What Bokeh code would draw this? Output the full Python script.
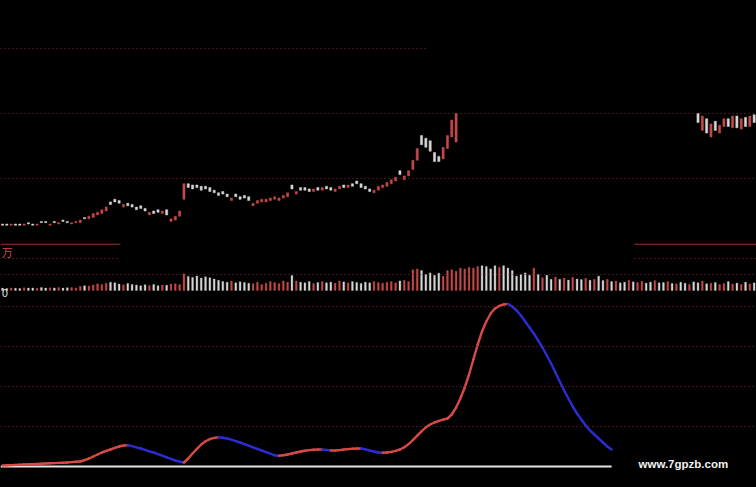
from bokeh.plotting import figure
from bokeh.layouts import column
from bokeh.models import Range1d, Span, ColumnDataSource, GlobalInlineStyleSheet
from bokeh.core.properties import value
from bokeh.embed import file_html
from bokeh.resources import INLINE

# ---------------- data ----------------
# candle open / close (price); hidden candles (above view) are None
open_px = [16.5,16.5,16.4,16.5,16.5,16.4,16.6,16.5,16.4,16.7,
           16.7,16.4,16.7,16.5,16.8,16.7,16.5,16.6,16.6,17.0,
           16.9,17.0,17.2,17.3,17.5,18.2,18.4,18.3,17.8,18.1,
           18.0,17.8,17.9,17.7,17.2,17.5,17.6,17.3,17.6,16.7,
           16.8,17.1,18.4,19.6,19.5,19.5,19.4,19.4,19.3,19.1,
           18.9,19.0,18.8,18.3,18.8,18.6,18.7,18.6,17.9,18.1,
           18.2,18.2,18.3,18.4,18.3,18.5,18.6,19.5,18.8,19.3,
           19.3,19.2,19.0,19.3,19.1,19.4,19.3,19.0,19.2,19.5,
           19.3,19.6,19.8,19.6,19.4,19.2,18.9,19.1,19.3,19.4,
           19.6,19.8,20.6,19.9,20.2,20.7,21.4,23.3,23.1,22.9,
           22.0,21.7,21.5,22.3,23.2,22.8] + [None] * 55 + \
          [25.0,23.7,24.6,23.2,24.4,23.5,24.0,24.6,23.9,24.8,23.8,24.7,24.0,24.9]
close_px = [16.4,16.4,16.5,16.4,16.4,16.5,16.5,16.4,16.5,16.6,
            16.6,16.5,16.6,16.6,16.7,16.6,16.6,16.7,16.8,16.9,
            17.1,17.3,17.4,17.6,17.8,18.0,18.2,18.1,18.0,17.9,
            17.8,17.6,17.7,17.5,17.4,17.3,17.4,17.5,17.2,16.9,
            17.1,17.5,19.6,19.3,19.2,19.3,19.1,19.2,19.0,18.9,
            18.7,18.8,18.6,18.5,18.6,18.4,18.5,18.3,18.1,18.3,
            18.4,18.4,18.5,18.6,18.5,18.7,18.9,19.2,19.0,19.1,
            19.1,19.0,19.2,19.1,19.3,19.2,19.1,19.2,19.4,19.3,
            19.5,19.4,19.6,19.3,19.2,19.0,19.1,19.4,19.5,19.7,
            19.9,20.1,20.3,20.2,20.6,21.4,22.3,22.6,22.4,22.1,
            21.3,21.3,22.4,23.3,24.5,25.0] + [None] * 55 + \
           [24.3,24.8,23.5,24.2,23.7,24.1,24.6,24.0,24.8,23.9,24.6,24.0,24.8,24.3]

volume = [150,120,160,140,130,170,150,160,140,180,150,170,160,190,150,170,180,160,
          260,300,280,350,420,380,450,520,480,400,360,430,380,340,300,360,320,380,300,350,330,400,420,
          380,1050,
          880,820,900,780,860,800,720,640,
          560,520,600,480,540,500,
          450,420,520,380,460,560,500,440,600,520,
          930,
          600,520,480,560,440,500,560,480,520,460,600,540,480,560,500,440,520,480,560,500,460,
          520,560,480,600,640,560,
          1300,1350,1250,
          1000,1100,950,1080,900,
          1250,1300,1200,1400,1350,1450,1400,1500,
          1550,1500,1350,1550,1450,1550,1400,1250,
          900,1000,1100,950,
          1400,
          1000,800,950,700,850,
          700,780,650,820,720,680,760,640,700,900,620,700,
          560,600,480,520,640,540,500,580,460,520,620,480,500,560,440,420,520,460,380,540,
          480,600,420,460,500,380,440,560,400,460,380,520,420,480]
volume_dir = ("wwrwwrwwrw" "wrwrwwrrrw" "rrrrrwwwrw" "wwwwrwwrwr" "rrrwwwwwww"
              "wwwrwwwwrr" "rrrrrrrwrw" "wwrwrwwrrw" "rwwwwwrrrr" "rrwrrrrwww"
              "wwrrrrrrrr" "rwwwwrwwww" "wwwrwrwwrw" "rwrwwrwrww" "rwrwwrwrrw"
              "wrwwrwrwwr" "wwrwrwrrwr" "wrwrw")

indicator = [0.5,0.6,0.7,0.8,0.9,1.0,1.1,1.2,1.3,1.4,1.5,
             1.6,1.7,1.8,1.9,2.0,2.2,2.4,
             2.5,3.2,4.0,5.0,
             6.0,7.0,7.8,8.5,9.3,10.0,10.5,10.6,
             10.2,9.6,9.0,8.3,7.6,7.0,6.2,5.4,4.6,3.8,3.0,2.4,2.0,
             4.0,6.5,8.8,11.0,12.6,13.7,14.3,14.6,
             14.4,14.0,13.4,12.7,12.0,11.2,10.4,9.6,8.8,8.0,7.2,6.4,5.6,5.4,
             5.6,6.0,6.5,7.0,7.5,7.9,8.2,8.4,8.5,8.5,8.3,
             8.0,8.0,8.2,8.5,8.7,8.9,9.0,9.0,
             8.6,8.0,7.5,7.0,6.9,
             7.0,7.3,7.8,8.5,9.6,11.2,
             13.2,15.4,17.6,19.6,21.0,
             22.0,22.8,23.4,24.0,26.0,
             29.5,34.0,39.5,46.0,53.5,61.0,
             67.5,72.5,76.5,79.0,80.3,81.0,81.3,
             80.0,78.0,75.5,72.5,69.5,66.5,63.0,59.5,55.5,51.5,47.0,42.5,38.0,34.0,
             30.0,26.5,23.5,20.5,18.0,16.0,14.0,12.0,10.0,8.5]

price_grid_full = [20, 25]
price_grid_part = [30]
volume_grid_full = [1000]
volume_grid_part = [2000]
volume_top_line = [2900]
indicator_grid = [20, 40, 60, 80]
watermark = "www.7gpzb.com"

# ---------------- styling ----------------
RED = "#c24a48"
WHITE = "#d6d6d6"
GRID = "#8c2c2c"
LINE_RED = "#d84a46"
LINE_BLUE = "#2c2cd2"

W = 756
xr = Range1d(-0.463, 174.54)


def mk(h, y0, y1):
    f = figure(width=W, height=h, x_range=xr, y_range=Range1d(y0, y1),
               output_backend="svg", toolbar_location=None,
               x_axis_location=None, y_axis_location=None,
               background_fill_color="black", border_fill_color="black",
               outline_line_color=None, min_border=0,
               min_border_left=0, min_border_right=0, min_border_top=0, min_border_bottom=0)
    f.grid.visible = False
    return f


# ---------------- price panel ----------------
p1 = mk(243, 15.0, 33.69)
for lv in price_grid_full:
    p1.add_layout(Span(location=lv, dimension="width", line_color=GRID,
                       line_dash="1 3", line_width=1))
p1.segment(x0=[-0.463] * len(price_grid_part), x1=[98.4] * len(price_grid_part),
           y0=price_grid_part, y1=price_grid_part, line_color=GRID, line_dash="1 3", line_width=1)

cx, cb, ct, cc = [], [], [], []
for i, (o, c) in enumerate(zip(open_px, close_px)):
    if o is None:
        continue
    cx.append(i)
    cb.append(min(o, c))
    ct.append(max(o, c))
    cc.append(RED if c >= o else WHITE)
p1.vbar(x="x", bottom="b", top="t", width=0.5, fill_color="c", line_color="c",
        line_width=0.5, source=ColumnDataSource(dict(x=cx, b=cb, t=ct, c=cc)))

# ---------------- volume panel ----------------
p2 = mk(55, -500, 2937.5)
for lv in volume_grid_full:
    p2.add_layout(Span(location=lv, dimension="width", line_color=GRID,
                       line_dash="1 3", line_width=1))
for lv in volume_grid_part:
    p2.segment(x0=[-0.463, 146.3], x1=[27.3, 174.54], y0=[lv, lv], y1=[lv, lv],
               line_color=GRID, line_dash="1 3", line_width=1)
for lv in volume_top_line:
    p2.segment(x0=[-0.463, 146.3], x1=[27.3, 174.54], y0=[lv, lv], y1=[lv, lv],
               line_color="#9a3434", line_width=1.2)
vx = list(range(len(volume)))
vc = [RED if d == "r" else WHITE for d in volume_dir]
p2.vbar(x="x", top="t", bottom=0, width=0.42, fill_color="c", line_color="c", line_width=0.3,
        source=ColumnDataSource(dict(x=vx, t=volume, c=vc)))
p2.text(x=[-0.2], y=[2437], text=["万"], text_color="#c8504c", text_font_size="11px",
        text_font=value("Noto Sans CJK SC"), text_baseline="middle", text_align="left")
p2.text(x=[-0.2], y=[-125], text=["0"], text_color="#e0e0e0", text_font_size="10px",
        text_font=value("DejaVu Sans"), text_baseline="middle", text_align="left")

# ---------------- indicator panel ----------------
p3 = mk(189, -10.5, 84)
for lv in indicator_grid:
    p3.add_layout(Span(location=lv, dimension="width", line_color=GRID,
                       line_dash="1 3", line_width=1))
n = len(indicator)
p3.segment(x0=[-0.463], x1=[n - 1], y0=[0], y1=[0], line_color="#e4e4e4", line_width=2)
sx0 = list(range(n - 1))
sx1 = list(range(1, n))
sy0 = indicator[:-1]
sy1 = indicator[1:]
scol = [LINE_RED if b >= a else LINE_BLUE for a, b in zip(sy0, sy1)]
p3.segment(x0="x0", x1="x1", y0="y0", y1="y1", line_color="c", line_width=2.4,
           line_cap="round",
           source=ColumnDataSource(dict(x0=sx0, x1=sx1, y0=sy0, y1=sy1, c=scol)))
p3.text(x=[157.6], y=[1.5], text=[watermark], text_color="#f0f0f0", text_font_size="11.5px",
        text_font=value("Liberation Sans"), text_font_style="bold",
        text_baseline="middle", text_align="center")

layout = column(p1, p2, p3, spacing=0)
layout.stylesheets = [GlobalInlineStyleSheet(css="html,body{background:#000;margin:0;padding:0;overflow:hidden;}")]

open("out.html", "w").write(file_html(layout, INLINE))
